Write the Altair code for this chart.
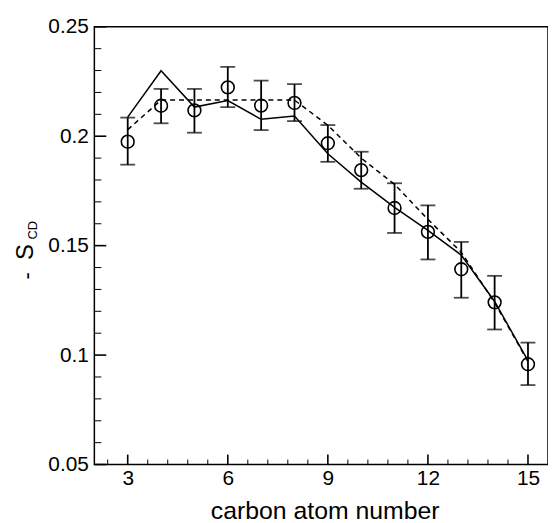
import altair as alt
import pandas as pd

# ---- data ----
carbon = [3, 4, 5, 6, 7, 8, 9, 10, 11, 12, 13, 14, 15]
sim_mean = [0.1975, 0.2139, 0.2118, 0.2223, 0.2140, 0.2152, 0.1968, 0.1845, 0.1672, 0.1563, 0.1392, 0.1241, 0.0958]
sim_lo = [0.1870, 0.2059, 0.2016, 0.2133, 0.2028, 0.2069, 0.1883, 0.1760, 0.1558, 0.1437, 0.1262, 0.1117, 0.0863]
sim_hi = [0.2085, 0.2216, 0.2216, 0.2317, 0.2254, 0.2238, 0.2051, 0.1929, 0.1785, 0.1684, 0.1517, 0.1362, 0.1057]
solid_vals = [0.2087, 0.2299, 0.2133, 0.2163, 0.2077, 0.2092, 0.1920, 0.1790, 0.1675, 0.1570, 0.1457, 0.1245, 0.0975]
dashed_vals = [0.2030, 0.2165, 0.2165, 0.2165, 0.2165, 0.2165, 0.2050, 0.1900, 0.1780, 0.1620, 0.1470, 0.1240, 0.0970]

x_major = [3, 6, 9, 12, 15]
x_minor = [2.4, 3.6, 4.2, 4.8, 5.4, 6.6, 7.2, 7.8, 8.4, 9.6, 10.2, 10.8, 11.4,
           12.6, 13.2, 13.8, 14.4]
y_major = [0.05, 0.1, 0.15, 0.2, 0.25]
y_minor = [0.06, 0.07, 0.08, 0.09, 0.11, 0.12, 0.13, 0.14, 0.16, 0.17, 0.18, 0.19,
           0.21, 0.22, 0.23, 0.24]

W, H = 457, 441
FONT = "Liberation Sans"

df = pd.DataFrame({"c": carbon, "m": sim_mean, "lo": sim_lo, "hi": sim_hi,
                   "s": solid_vals, "d": dashed_vals})

xscale = alt.Scale(domain=[2, 15.6], nice=False, zero=False)
yscale = alt.Scale(domain=[0.05, 0.25], nice=False, zero=False)
xaxis = alt.Axis(values=x_major, ticks=False, domain=False, grid=False,
                 labelFontSize=21, labelPadding=3, labelFont=FONT, labelColor="black",
                 title="carbon atom number", titleFont=FONT, titleFontSize=25,
                 titleFontWeight="normal", titleColor="black",
                 titleBaseline="alphabetic", titleY=54, titleX=232)
yaxis = alt.Axis(values=y_major, ticks=False, domain=False, grid=False, format=".2~f",
                 labelFontSize=21, labelPadding=6, labelFont=FONT, labelColor="black",
                 title=None)


def X(f):
    return alt.X(f"{f}:Q", scale=xscale, axis=xaxis)


def Y(f):
    return alt.Y(f"{f}:Q", scale=yscale, axis=yaxis)


def tick_df(vals):
    return pd.DataFrame({"t": vals})


xmaj = alt.Chart(tick_df(x_major)).mark_rule(color="black", strokeWidth=1.6).encode(
    x=X("t"), y=alt.value(H), y2=alt.value(H - 10))
xmin = alt.Chart(tick_df(x_minor)).mark_rule(color="black", strokeWidth=1).encode(
    x=X("t"), y=alt.value(H), y2=alt.value(H - 5))
ymaj = alt.Chart(tick_df(y_major)).mark_rule(color="black", strokeWidth=1.6).encode(
    y=Y("t"), x=alt.value(0), x2=alt.value(12))
ymin = alt.Chart(tick_df(y_minor)).mark_rule(color="black", strokeWidth=1).encode(
    y=Y("t"), x=alt.value(0), x2=alt.value(7))

base = alt.Chart(df)
solid = base.mark_line(color="black", strokeWidth=1.5).encode(x=X("c"), y=Y("s"))
dashed = base.mark_line(color="black", strokeWidth=1.5, strokeDash=[5, 4]).encode(
    x=X("c"), y=Y("d"))
err = base.mark_rule(color="black", strokeWidth=1.8).encode(x=X("c"), y=Y("lo"), y2="hi:Q")
cap_lo = base.mark_tick(color="black", orient="horizontal", size=15, thickness=1.8).encode(
    x=X("c"), y=Y("lo"))
cap_hi = base.mark_tick(color="black", orient="horizontal", size=15, thickness=1.8).encode(
    x=X("c"), y=Y("hi"))
pts = base.mark_point(shape="circle", size=165, filled=False, color="black",
                      strokeWidth=1.6, opacity=1).encode(x=X("c"), y=Y("m"))

one = alt.Data(values=[{"a": 1}])
t_minus = alt.Chart(one).mark_text(angle=270, font=FONT, fontSize=22, fill="#000000",
                                   align="center", baseline="middle").encode(
    x=alt.value(-68), y=alt.value(251), text=alt.value("-"))
t_s = alt.Chart(one).mark_text(angle=270, font=FONT, fontSize=24, fill="#000000",
                               align="center", baseline="middle").encode(
    x=alt.value(-69), y=alt.value(227), text=alt.value("S"))
t_cd = alt.Chart(one).mark_text(angle=270, font=FONT, fontSize=13, fill="#000000",
                                align="center", baseline="middle").encode(
    x=alt.value(-62), y=alt.value(205), text=alt.value("CD"))

chart = alt.layer(xmaj, xmin, ymaj, ymin, solid, dashed, err, cap_lo, cap_hi, pts,
                  t_minus, t_s, t_cd).properties(
    width=W, height=H,
    background="white",
    autosize=alt.AutoSizeParams(type="none"),
    padding={"left": 87, "top": 17, "right": 0, "bottom": 57},
).configure_view(stroke="black", strokeWidth=1.5)

chart.save("out.html", embed_options={"renderer": "svg", "actions": False})
